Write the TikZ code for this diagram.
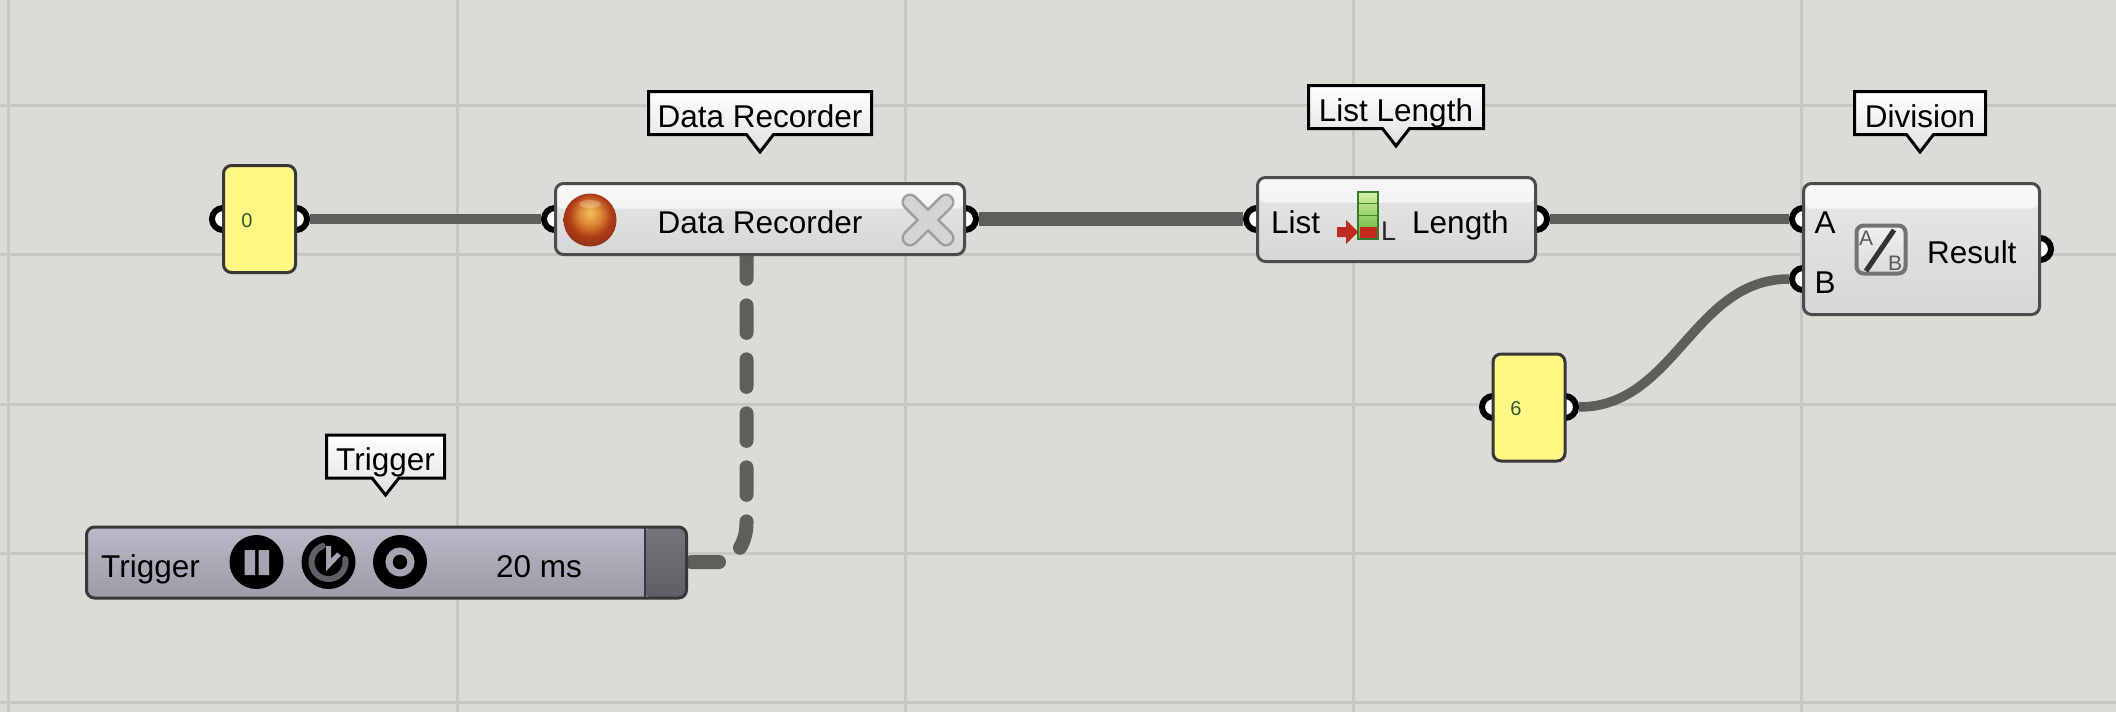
\documentclass[tikz,border=0pt]{standalone}
\usepackage{fontspec}
\setmainfont{Liberation Sans}
\usetikzlibrary{shapes.callouts}
\definecolor{canvasbg}{HTML}{DCDBD5}
\definecolor{gridline}{HTML}{C8C7C0}
\definecolor{wire}{HTML}{5E5E5A}
\definecolor{edge}{HTML}{4C4C4C}
\definecolor{panel}{HTML}{FFF784}
\definecolor{trigtop}{HTML}{B9B9C7}
\definecolor{trigbot}{HTML}{9C9CA8}
\definecolor{trigdark}{HTML}{74747A}
\definecolor{trigdarker}{HTML}{5E5E64}
\definecolor{btnlight}{HTML}{A4A4B0}
\definecolor{btnmid}{HTML}{5F5F66}
\definecolor{ballglow}{HTML}{F0C060}
\definecolor{ballmid}{HTML}{DC8A34}
\definecolor{ballbot}{HTML}{B03C18}
\definecolor{ballrim}{HTML}{8A3018}
\definecolor{barlight}{HTML}{D4F2A6}
\definecolor{bargreen}{HTML}{5EB030}
\definecolor{baredge}{HTML}{3A7A30}
\definecolor{barred}{HTML}{C22A1E}
\definecolor{digitgreen}{HTML}{2E5A2E}
\pgfdeclareradialshading{recglow}{\pgfpoint{0bp}{7bp}}{color(0bp)=(ballglow); color(10bp)=(ballmid); color(20bp)=(ballbot); color(30bp)=(ballrim); color(50bp)=(ballrim)}
\tikzset{
 lab/.style={inner sep=0pt,font=\fontsize{31.5}{32}\selectfont},
 tag/.style={rectangle callout,draw=black,line width=3pt,top color=white,bottom color=black!12,inner sep=0pt,
  minimum height=43pt,text height=28pt,text depth=0pt,callout pointer width=27pt,lab},
 port/.style={circle,draw=black,fill=white,line width=6pt,minimum size=22pt,inner sep=0pt},
 comp/.style={rectangle,rounded corners=8pt,draw=edge,line width=3pt,top color=black!9,bottom color=black!16,inner sep=0pt,lab,
  path picture={\shade[top color=black!3,bottom color=black!7] (path picture bounding box.north west) rectangle ([yshift=-25pt]path picture bounding box.north east);}},
 panelbox/.style={rectangle,rounded corners=8pt,draw=black!78,line width=3pt,fill=panel,minimum width=72pt,minimum height=107pt},
 digit/.style={inner sep=0pt,anchor=base,text=digitgreen,font=\fontsize{20}{20}\selectfont},
 thin wire/.style={draw=wire,line width=9.5pt},
 thick wire/.style={draw=wire,line width=14pt},
 icontxt/.style={inner sep=0pt,anchor=base,text=black!65,font=\fontsize{21}{21}\selectfont},
}
\begin{document}
\begin{tikzpicture}[x=1pt,y=-1pt]
\useasboundingbox (0,0) rectangle (2116,712);
\fill[canvasbg] (0,0) rectangle (2116,712);
\foreach \x in {8,457,905,1353,1801} {
 \draw[gridline,line width=3pt] (\x,0)--(\x,712);
}
\foreach \y in {105,254,404,553,702} {
 \draw[gridline,line width=3pt] (0,\y)--(2116,\y);
}
% ports go under the boxes
\foreach \nm/\x/\y in {zeroin/223/219,zeroout/296/219,recin/555/219,recout/965/219,listin/1257/219,listout/1536/219,
 diva/1803/219,divb/1803/279,divout/2040/249,sixin/1493/407,sixout/1565/407} {
 \node[port] (\nm) at (\x,\y) {};
}
\draw[thin wire] (zeroout.east)--(recin.west);
\draw[thick wire] (recout.east)--(listin.west);
\draw[thin wire] (listout.east)--(diva.west);
\draw[thin wire] (sixout.east) .. controls +(96,0) and +(-96,0) .. (divb.west);
\coordinate (trigout) at (691.5,562);
\coordinate (recdata) at (746.5,255);
\draw[wire,line width=14pt,line cap=round,dash pattern=on 27.5pt off 26.5pt]
 (trigout)--(719,562) .. controls (733,562) and (746.5,545) .. (746.5,523)--(recdata);
% yellow panels
\node[panelbox] (zero) at (259.5,219) {};
\node[digit] (zerotxt) at (247,227) {0};
\node[panelbox] (six) at (1529,407.5) {};
\node[digit] (sixtxt) at (1516,415) {6};
% recorder
\node[comp,minimum width=409pt,minimum height=71pt,text height=28pt,text depth=0pt] (rec) at (760,219) {Data Recorder};
\node[circle,minimum size=53pt,inner sep=0pt,shading=recglow] (recball) at (590,220) {};
\fill[white,opacity=.25] (590,204) ellipse (11pt and 4pt);
\foreach \a/\b in {910/946,946/910} {
 \draw[black!38,line width=17pt,line cap=round] (\a,202)--(\b,238);
}
\foreach \a/\b in {910/946,946/910} {
 \draw[black!17,line width=12pt,line cap=round] (\a,202)--(\b,238);
}
% list length
\node[comp,minimum width=278pt,minimum height=84pt] (list) at (1396.5,219.5) {};
\node[lab,anchor=base west] (listtxt) at (1271,233) {List};
\node[lab,anchor=base west] (lentxt) at (1412,233) {Length};
\draw[baredge,line width=2.5pt,top color=barlight,bottom color=bargreen] (1358,192) rectangle (1378,239);
\fill[barred] (1359.5,227) rectangle (1376.5,237.5);
\draw[baredge!70!bargreen,line width=1pt] (1359,203)--(1377,203) (1359,215)--(1377,215);
\fill[barred] (1337,227)--(1346,227)--(1346,220)--(1358,232)--(1346,244)--(1346,237)--(1337,237)--cycle;
\node[inner sep=0pt,anchor=base west,text=black!85,font=\fontsize{27}{27}\selectfont] (listl) at (1381,240) {L};
% division
\node[comp,minimum width=236pt,minimum height=131pt] (div) at (1921.5,249) {};
\node[lab,anchor=base] (atxt) at (1825,233) {A};
\node[lab,anchor=base] (btxt) at (1825,293) {B};
\node[lab,anchor=base west] (restxt) at (1927,263) {Result};
\draw[black!55,line width=4pt,rounded corners=7pt,top color=black!6,bottom color=black!14] (1856.5,225.5) rectangle (1905.5,273.5);
\draw[black!80,line width=5pt] (1866,271)--(1894,230);
\node[icontxt] (divat) at (1866,245) {A};
\node[icontxt] (divbt) at (1895,270) {B};
% trigger
\node[rectangle,rounded corners=8pt,draw=black!78,line width=3pt,top color=trigtop,bottom color=trigbot,minimum width=600pt,minimum height=71pt,inner sep=0pt,
 path picture={\shade[top color=trigdark,bottom color=trigdarker] ([xshift=-42pt]path picture bounding box.north east) rectangle (path picture bounding box.south east);
 \draw[black!78,line width=2pt] ([xshift=-42pt]path picture bounding box.north east)--([xshift=-42pt]path picture bounding box.south east);}] (trig) at (386.5,562.5) {};
\node[lab,anchor=base west] (trigtxt) at (101,577) {Trigger};
\node[lab,anchor=base] (mstxt) at (539,577) {20 ms};
\foreach \nm/\x in {pausebtn/256.5,clockbtn/328.5,recbtn/400} {
 \node[circle,fill=black,minimum size=54pt,inner sep=0pt] (\nm) at (\x,562) {};
}
\fill[btnlight] (244.5,550) rectangle (255,575) (258.5,550) rectangle (269,575);
\draw[btnmid,line width=6pt,line cap=round] (322.7,546) arc (-110:-370:17);
\draw[btnlight,line width=5pt] (328.5,546)--(328.5,565)--(339,554);
\draw[btnlight,line width=7pt] (400,562) circle (11pt);
% names on top
\foreach \nm/\x/\y/\w/\tip/\lab in {rectag/760/113/223/152/Data Recorder,listtag/1396/107/175/146/List Length,
 divtag/1920/113/131/152/Division,trigtag/385.5/456.5/118/495/Trigger} {
 \node[tag,minimum width=\w pt,callout absolute pointer={(\x,\tip)}] (\nm) at (\x,\y) {\lab};
}
\end{tikzpicture}
\end{document}
